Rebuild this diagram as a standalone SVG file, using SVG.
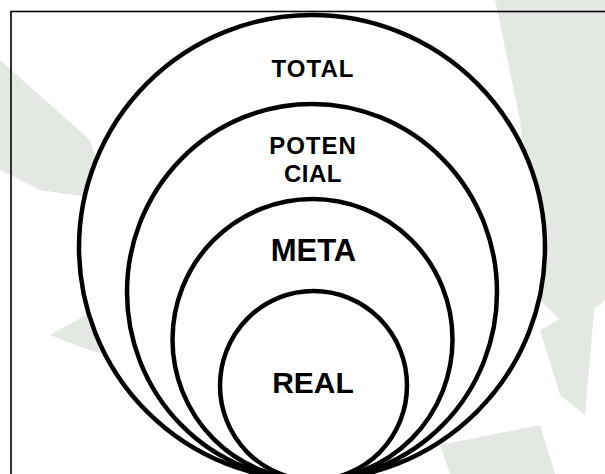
<svg xmlns="http://www.w3.org/2000/svg" width="605" height="474" viewBox="0 0 605 474">
  <style>
    .wm { fill: #e4e8e3; stroke: none; }
    .ring { fill: #ffffff; stroke: #000000; stroke-width: 4.5; }
    .lbl { font-family: "Liberation Sans", Arial, sans-serif; font-weight: bold; fill: #000000; text-anchor: middle; }
    .frame { fill: none; stroke: #000000; stroke-width: 1.6; }
  </style>
  <rect x="0" y="0" width="605" height="474" fill="#ffffff"/>
  <g id="watermark">
    <path class="wm" d="M0,60 L90,140 L110,200 L40,190 L0,170 Z"/>
    <path class="wm" d="M495,0 L605,0 L605,300 L570,330 L540,300 L520,120 Z"/>
    <path class="wm" d="M50,335 L95,310 L105,355 L75,345 Z"/>
    <path class="wm" d="M540,330 L595,300 L585,415 L560,395 Z"/>
    <path class="wm" d="M440,445 L540,425 L555,474 L450,474 Z"/>
  </g>
  <rect class="frame" x="11" y="11.5" width="620" height="480"/>
  <g id="total">
    <ellipse class="ring" cx="312" cy="247.5" rx="233" ry="232.5"/>
    <text class="lbl" x="313" y="77" font-size="24" letter-spacing="1">TOTAL</text>
  </g>
  <g id="potencial">
    <ellipse class="ring" cx="312" cy="292" rx="185" ry="188"/>
    <text class="lbl" x="313" y="154" font-size="24" letter-spacing="1">POTEN</text>
    <text class="lbl" x="313" y="182" font-size="24" letter-spacing="0.5">CIAL</text>
  </g>
  <g id="meta">
    <ellipse class="ring" cx="312.5" cy="339.5" rx="140" ry="140.5"/>
    <text class="lbl" x="313.5" y="260.5" font-size="31">META</text>
  </g>
  <g id="real">
    <ellipse class="ring" cx="313.5" cy="385.5" rx="93.5" ry="94.5"/>
    <text class="lbl" x="313" y="393" font-size="30">REAL</text>
  </g>
  <g id="connectors"/>
</svg>
